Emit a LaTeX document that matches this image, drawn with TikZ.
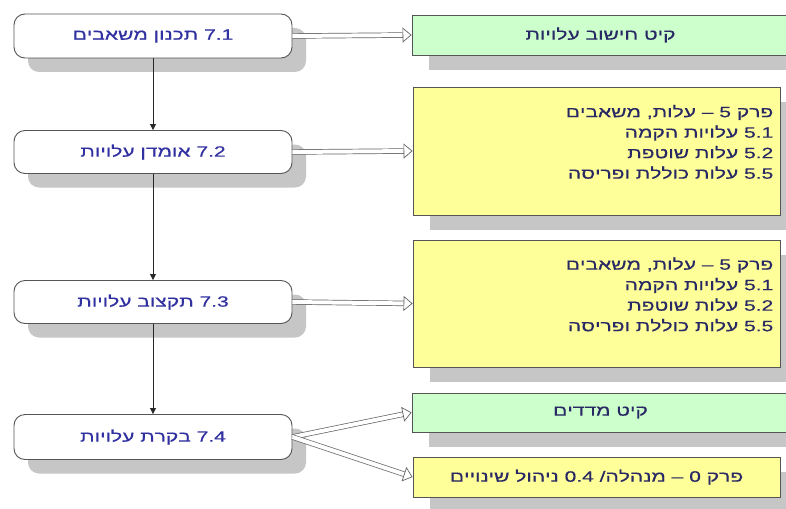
\documentclass[tikz,border=0pt]{standalone}
\usepackage{fontspec}
\setmainfont{Liberation Sans}[FakeStretch=1.4,FakeBold=0.5]
\TeXXeTstate=1
\usetikzlibrary{arrows.meta,shadows}
\newcommand{\rtltext}[1]{\beginR #1\endR}
\newcommand{\ltrnum}[1]{\beginL #1\endL{}}
\definecolor{leftblue}{RGB}{48,48,160}
\definecolor{navytext}{RGB}{40,40,100}
\definecolor{boxborder}{RGB}{85,85,85}
\definecolor{shadowgray}{RGB}{198,198,198}
\definecolor{lightgreen}{RGB}{204,255,204}
\definecolor{lightyellow}{RGB}{255,255,153}
\definecolor{linegray}{RGB}{40,40,40}
\definecolor{arrowgray}{RGB}{100,100,100}
\begin{document}
\begin{tikzpicture}[x=1pt,y=-1pt,
  leftbox/.style={draw=boxborder, line width=0.9pt, fill=white, rounded corners=11pt,
    minimum width=278pt, minimum height=44pt, inner sep=0pt, text=leftblue,
    font=\fontsize{15}{18}\selectfont,
    drop shadow={shadow xshift=14pt, shadow yshift=-14pt, fill=shadowgray, opacity=1}},
  greenbox/.style={draw=boxborder, line width=0.9pt, fill=lightgreen,
    minimum width=377pt, inner sep=0pt, text=navytext,
    font=\fontsize{15}{18}\selectfont,
    drop shadow={shadow xshift=17pt, shadow yshift=-15pt, fill=shadowgray, opacity=1}},
  yellowbox/.style={draw=boxborder, line width=0.9pt, fill=lightyellow,
    minimum width=367pt, inner sep=0pt, text=navytext,
    font=\fontsize{15}{18}\selectfont,
    drop shadow={shadow xshift=17pt, shadow yshift=-15pt, fill=shadowgray, opacity=1}},
  yellowtext/.style={align=right, inner sep=0pt, text=navytext,
    font=\fontsize{15}{20.5}\selectfont},
  vline/.style={draw=linegray, line width=0.8pt, -{Triangle[length=6pt,width=6pt]}},
  hollow/.style={draw=arrowgray, line width=0.7pt, double=white, double distance=4pt,
    -{Triangle[open, length=9pt, width=15pt, line width=0.7pt]}}
]
\useasboundingbox[fill=white] (0,0) rectangle (786,508);

% left process boxes
\node[leftbox] (b1) at (153,36) {\rtltext{\ltrnum{7.1} תכנון משאבים}};
\node[leftbox, minimum height=43pt] (b2) at (153,152) {\rtltext{\ltrnum{7.2} אומדן עלויות}};
\node[leftbox, minimum height=43pt] (b3) at (153,302) {\rtltext{\ltrnum{7.3} תקצוב עלויות}};
\node[leftbox, minimum height=45pt] (b4) at (153,437) {\rtltext{\ltrnum{7.4} בקרת עלויות}};

% right boxes
\node[greenbox, minimum height=40pt] (g1) at (600.5,35) {\rtltext{קיט חישוב עלויות}};
\node[yellowbox, minimum height=128pt] (y1) at (596.5,151) {};
\node[yellowtext, anchor=east] (t1) at ([xshift=-7pt,yshift=9pt]y1.east) {%
  \rtltext{פרק \ltrnum{5} – עלות\kern0pt, משאבים}\\
  \rtltext{\ltrnum{5.1} עלויות הקמה}\\
  \rtltext{\ltrnum{5.2} עלות שוטפת}\\
  \rtltext{\ltrnum{5.5} עלות כוללת ופריסה}};
\node[yellowbox, minimum height=127pt] (y2) at (596.5,303.5) {};
\node[yellowtext, anchor=east] (t2) at ([xshift=-7pt,yshift=9pt]y2.east) {%
  \rtltext{פרק \ltrnum{5} – עלות\kern0pt, משאבים}\\
  \rtltext{\ltrnum{5.1} עלויות הקמה}\\
  \rtltext{\ltrnum{5.2} עלות שוטפת}\\
  \rtltext{\ltrnum{5.5} עלות כוללת ופריסה}};
\node[greenbox, minimum height=39pt] (g2) at (600.5,412.5) {\rtltext{קיט מדדים}};
\node[yellowbox, minimum height=40pt] (y3) at (596.5,477) {%
  \rtltext{פרק \ltrnum{0} – מנהלה\kern0pt/ \ltrnum{0.4} ניהול שינויים}};

% vertical flow
\draw[vline] (b1.south) -- (b2.north);
\draw[vline] (b2.south) -- (b3.north);
\draw[vline] (b3.south) -- (b4.north);

% hollow arrows
\draw[hollow] (b1.east) -- (g1.west);
\draw[hollow] (b2.east) -- (y1.west);
\draw[hollow] (b3.east) -- (y2.west);
\draw[hollow] (b4.east) -- (g2.west);
\draw[hollow] (b4.east) -- (y3.west);
\end{tikzpicture}
\end{document}
